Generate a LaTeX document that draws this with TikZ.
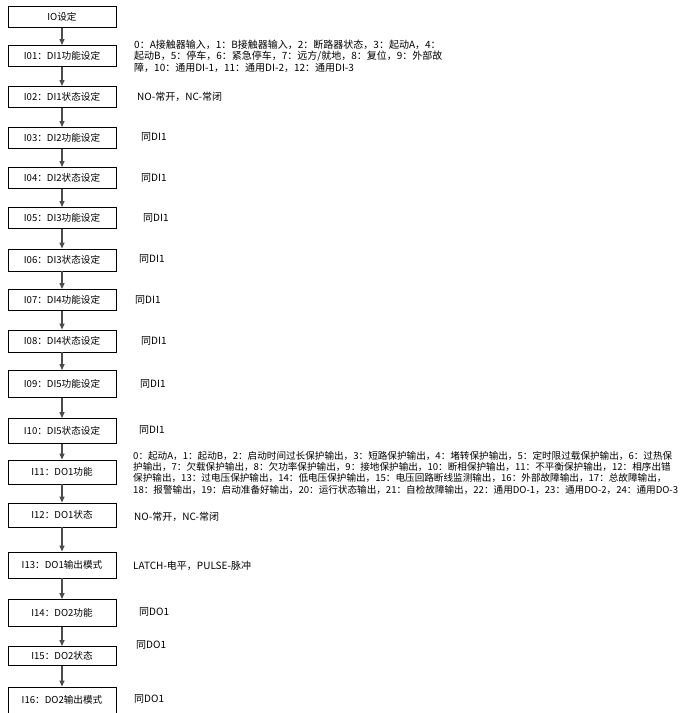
\documentclass[tikz,border=0pt]{standalone}
\usepackage{fontspec}
\setmainfont{Noto Sans CJK SC}
\usetikzlibrary{arrows.meta}
\tikzset{
  setbox/.style={draw, line width=0.9pt, minimum width=108pt, minimum height=21pt,
    inner sep=0pt, font=\fontsize{9.6}{10}\selectfont},
  note/.style={anchor=west, inner sep=0pt, align=left, font=\fontsize{10}{11.3}\selectfont},
  flow/.style={-{Triangle[length=6pt,width=5pt]}, line width=1.3pt, black!70},
}
\begin{document}
\begin{tikzpicture}[x=1pt, y=-1pt]
\useasboundingbox (0,0) rectangle (696,713);
% settings chain
\foreach \n/\y/\h/\lab in {io/17/21/IO设定, i01/56/21/I01：DI1功能设定,
    i02/97/21/I02：DI1状态设定, i03/138/21/I03：DI2功能设定,
    i04/178/21/I04：DI2状态设定, i05/218/21/I05：DI3功能设定,
    i06/260/22/I06：DI3状态设定, i07/300/21/I07：DI4功能设定,
    i08/341/22/I08：DI4状态设定, i09/384/27/I09：DI5功能设定,
    i10/431/25/I10：DI5状态设定, i11/472/24/I11：DO1功能,
    i12/515/24/I12：DO1状态, i13/565/26/I13：DO1输出模式,
    i14/613/27/I14：DO2功能, i15/656/19/I15：DO2状态,
    i16/700/26/I16：DO2输出模式} {
  \node[setbox, minimum height=\h pt] (\n) at (62,\y) {\lab};
}
\foreach \a/\b in {io/i01, i01/i02, i02/i03, i03/i04, i04/i05, i05/i06,
    i06/i07, i07/i08, i08/i09, i09/i10, i10/i11, i11/i12, i12/i13,
    i13/i14, i14/i15, i15/i16} {
  \draw[flow] (\a) -- (\b);
}
% notes
\node[note, anchor=north west] (t01) at (134,40) {0：A接触器输入，1：B接触器输入，2：断路器状态，3：起动A，4：\\
  起动B，5：停车，6：紧急停车，7：远方/就地，8：复位，9：外部故\\
  障，10：通用DI-1，11：通用DI-2，12：通用DI-3};
\node[note] (t02) at (137,97) {NO-常开，NC-常闭};
\node[note] (t03) at (141,137) {同DI1};
\node[note] (t04) at (141,178) {同DI1};
\node[note] (t05) at (143,218) {同DI1};
\node[note] (t06) at (139,259) {同DI1};
\node[note] (t07) at (135,300) {同DI1};
\node[note] (t08) at (141,341) {同DI1};
\node[note] (t09) at (140,384) {同DI1};
\node[note] (t10) at (139,430) {同DI1};
\node[note, anchor=north west, font=\fontsize{9.6}{11.3}\selectfont] (t11) at (133,451) {0：起动A，1：起动B，2：启动时间过长保护输出，3：短路保护输出，4：堵转保护输出，5：定时限过载保护输出，6：过热保\\
  护输出，7：欠载保护输出，8：欠功率保护输出，9：接地保护输出，10：断相保护输出，11：不平衡保护输出，12：相序出错\\
  保护输出，13：过电压保护输出，14：低电压保护输出，15：电压回路断线监测输出，16：外部故障输出，17：总故障输出，\\
  18：报警输出，19：启动准备好输出，20：运行状态输出，21：自检故障输出，22：通用DO-1，23：通用DO-2，24：通用DO-3};
\node[note] (t12) at (134,517) {NO-常开，NC-常闭};
\node[note] (t13) at (133,566) {LATCH-电平，PULSE-脉冲};
\node[note] (t14) at (139,612) {同DO1};
\node[note] (t15) at (136,645) {同DO1};
\node[note] (t16) at (134,699) {同DO1};
\end{tikzpicture}
\end{document}
